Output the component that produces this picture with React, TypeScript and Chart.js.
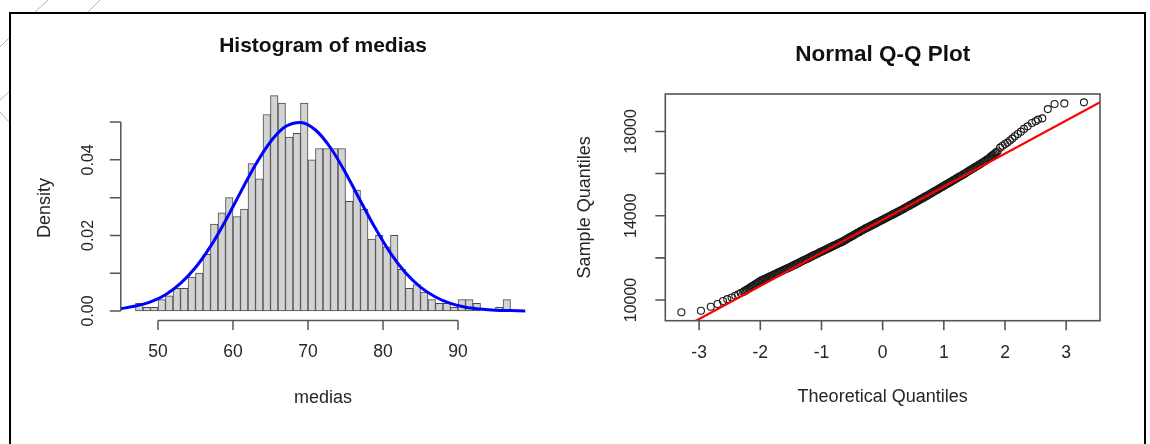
import { useEffect, useRef } from 'react';
import { Chart, registerables } from 'chart.js';

Chart.register(...registerables);

// ---------- Histogram data ----------
const histMids = [
  47.5, 48.5, 49.5, 50.5, 51.5, 52.5, 53.5, 54.5, 55.5, 56.5,
  57.5, 58.5, 59.5, 60.5, 61.5, 62.5, 63.5, 64.5, 65.5, 66.5,
  67.5, 68.5, 69.5, 70.5, 71.5, 72.5, 73.5, 74.5, 75.5, 76.5,
  77.5, 78.5, 79.5, 80.5, 81.5, 82.5, 83.5, 84.5, 85.5, 86.5,
  87.5, 88.5, 89.5, 90.5, 91.5, 92.5, 93.5, 94.5, 95.5, 96.5,
];
const histDensity = [
  0.002, 0.001, 0.001, 0.003, 0.004, 0.006, 0.006, 0.009, 0.010, 0.015,
  0.023, 0.026, 0.030, 0.025, 0.027, 0.039, 0.035, 0.052, 0.057, 0.055,
  0.046, 0.047, 0.055, 0.040, 0.043, 0.043, 0.043, 0.043, 0.029, 0.032,
  0.027, 0.019, 0.020, 0.017, 0.020, 0.011, 0.006, 0.007, 0.005, 0.003,
  0.002, 0.002, 0.001, 0.003, 0.003, 0.002, 0.000, 0.000, 0.001, 0.003,
];
const curveX = [
  45, 47, 49, 51, 53, 55, 57, 59, 61, 63, 65, 67, 69, 71,
  73, 75, 77, 79, 81, 83, 85, 87, 89, 91, 93, 95, 97, 99,
];
const curveY = [
  0.0006, 0.0013, 0.0024, 0.0043, 0.0073, 0.0115, 0.0171, 0.0239, 0.0314, 0.0387, 0.0448, 0.0488, 0.0499, 0.0479,
  0.0432, 0.0366, 0.0291, 0.0218, 0.0153, 0.0101, 0.0063, 0.0037, 0.0020, 0.0010, 0.0005, 0.0002, 0.0001, 0.0000,
];
const histXTicks = [50, 60, 70, 80, 90];
const histXLabels = ['50', '60', '70', '80', '90'];
const histYTicks = [0, 0.01, 0.02, 0.03, 0.04, 0.05];
const histYLabels = ['0.00', '', '0.02', '', '0.04', ''];

// ---------- Q-Q data ----------
const qqTheoretical = [
  -3.29, -2.97, -2.81, -2.70, -2.61, -2.54, -2.47, -2.41, -2.36, -2.32,
  -2.28, -2.26, -2.24, -2.22, -2.20, -2.18, -2.16, -2.14, -2.12, -2.10,
  -2.08, -2.06, -2.04, -2.02, -2.00, -1.98, -1.96, -1.94, -1.92, -1.90,
  -1.88, -1.86, -1.84, -1.82, -1.80, -1.78, -1.76, -1.74, -1.72, -1.70,
  -1.68, -1.66, -1.64, -1.62, -1.60, -1.58, -1.56, -1.54, -1.52, -1.50,
  -1.48, -1.46, -1.44, -1.42, -1.40, -1.38, -1.36, -1.34, -1.32, -1.30,
  -1.28, -1.26, -1.24, -1.22, -1.20, -1.18, -1.16, -1.14, -1.12, -1.10,
  -1.08, -1.06, -1.04, -1.02, -1.00, -0.98, -0.96, -0.94, -0.92, -0.90,
  -0.88, -0.86, -0.84, -0.82, -0.80, -0.78, -0.76, -0.74, -0.72, -0.70,
  -0.68, -0.66, -0.64, -0.62, -0.60, -0.58, -0.56, -0.54, -0.52, -0.50,
  -0.48, -0.46, -0.44, -0.42, -0.40, -0.38, -0.36, -0.34, -0.32, -0.30,
  -0.28, -0.26, -0.24, -0.22, -0.20, -0.18, -0.16, -0.14, -0.12, -0.10,
  -0.08, -0.06, -0.04, -0.02, 0.00, 0.02, 0.04, 0.06, 0.08, 0.10,
  0.12, 0.14, 0.16, 0.18, 0.20, 0.22, 0.24, 0.26, 0.28, 0.30,
  0.32, 0.34, 0.36, 0.38, 0.40, 0.42, 0.44, 0.46, 0.48, 0.50,
  0.52, 0.54, 0.56, 0.58, 0.60, 0.62, 0.64, 0.66, 0.68, 0.70,
  0.72, 0.74, 0.76, 0.78, 0.80, 0.82, 0.84, 0.86, 0.88, 0.90,
  0.92, 0.94, 0.96, 0.98, 1.00, 1.02, 1.04, 1.06, 1.08, 1.10,
  1.12, 1.14, 1.16, 1.18, 1.20, 1.22, 1.24, 1.26, 1.28, 1.30,
  1.32, 1.34, 1.36, 1.38, 1.40, 1.42, 1.44, 1.46, 1.48, 1.50,
  1.52, 1.54, 1.56, 1.58, 1.60, 1.62, 1.64, 1.66, 1.68, 1.70,
  1.72, 1.74, 1.76, 1.78, 1.80, 1.82, 1.84, 1.86, 1.88, 1.92,
  1.96, 2.00, 2.04, 2.08, 2.12, 2.16, 2.21, 2.26, 2.31, 2.37,
  2.44, 2.50, 2.54, 2.61, 2.70, 2.81, 2.97, 3.29,
];
const qqSample = [
  9420, 9490, 9680, 9810, 9950, 10040, 10120, 10200, 10270, 10330,
  10380, 10420, 10450, 10490, 10530, 10560, 10600, 10640, 10670, 10710,
  10750, 10780, 10820, 10860, 10900, 10930, 10950, 10980, 11010, 11030,
  11060, 11090, 11120, 11140, 11170, 11200, 11230, 11250, 11280, 11310,
  11340, 11360, 11390, 11420, 11450, 11470, 11500, 11520, 11550, 11580,
  11610, 11640, 11670, 11690, 11720, 11750, 11780, 11810, 11840, 11870,
  11900, 11920, 11950, 11980, 12010, 12040, 12070, 12100, 12130, 12150,
  12180, 12210, 12240, 12270, 12300, 12320, 12350, 12380, 12410, 12430,
  12460, 12490, 12520, 12550, 12580, 12600, 12630, 12660, 12690, 12710,
  12740, 12770, 12800, 12830, 12870, 12900, 12940, 12970, 13000, 13030,
  13070, 13100, 13140, 13170, 13200, 13230, 13270, 13300, 13330, 13360,
  13400, 13420, 13450, 13480, 13510, 13540, 13570, 13600, 13630, 13660,
  13690, 13720, 13750, 13780, 13810, 13840, 13870, 13900, 13930, 13960,
  13990, 14020, 14050, 14080, 14110, 14140, 14170, 14200, 14230, 14260,
  14290, 14320, 14360, 14390, 14420, 14450, 14490, 14520, 14550, 14580,
  14620, 14650, 14680, 14710, 14750, 14780, 14810, 14840, 14880, 14910,
  14940, 14970, 15010, 15040, 15080, 15110, 15150, 15180, 15210, 15240,
  15280, 15310, 15350, 15380, 15420, 15450, 15490, 15520, 15550, 15580,
  15620, 15650, 15690, 15720, 15760, 15790, 15830, 15860, 15890, 15920,
  15960, 15990, 16030, 16070, 16110, 16140, 16180, 16210, 16250, 16280,
  16320, 16350, 16390, 16420, 16460, 16500, 16540, 16570, 16610, 16650,
  16690, 16730, 16780, 16830, 16880, 16920, 16970, 17010, 17060, 17230,
  17320, 17400, 17470, 17570, 17660, 17770, 17880, 17990, 18120, 18240,
  18400, 18480, 18560, 18620, 19060, 19300, 19330, 19380,
];
const qqLineX = [-3.6, 3.6];
const qqLineY = [8155, 19459];
const qqXTicks = [-3, -2, -1, 0, 1, 2, 3];
const qqXLabels = ['-3', '-2', '-1', '0', '1', '2', '3'];
const qqYTicks = [10000, 12000, 14000, 16000, 18000];
const qqYLabels = ['10000', '', '14000', '', '18000'];

const FONT = '"Liberation Sans", Arial, sans-serif';
const AXIS = '#555555';
const TEXT = '#262626';

function rotText(ctx: CanvasRenderingContext2D, text: string, x: number, y: number) {
  ctx.save();
  ctx.translate(x, y);
  ctx.rotate(-Math.PI / 2);
  ctx.textAlign = 'center';
  ctx.textBaseline = 'middle';
  ctx.fillText(text, 0, 0);
  ctx.restore();
}

const histDecor = {
  id: 'histDecor',
  afterDraw(chart: any) {
    const ctx: CanvasRenderingContext2D = chart.ctx;
    const a = chart.chartArea;
    const xs = chart.scales.x;
    const ys = chart.scales.y;
    ctx.save();
    ctx.strokeStyle = AXIS;
    ctx.lineWidth = 1.5;
    const axY = a.bottom + 1;
    const x0 = xs.getPixelForValue(histXTicks[0]);
    const x1 = xs.getPixelForValue(histXTicks[histXTicks.length - 1]);
    ctx.beginPath();
    ctx.moveTo(x0, axY);
    ctx.lineTo(x1, axY);
    histXTicks.forEach((v) => {
      const px = xs.getPixelForValue(v);
      ctx.moveTo(px, axY);
      ctx.lineTo(px, axY + 9.5);
    });
    const axX = a.left + 0.3;
    const y0 = ys.getPixelForValue(histYTicks[0]);
    const y1 = ys.getPixelForValue(histYTicks[histYTicks.length - 1]);
    ctx.moveTo(axX, y0);
    ctx.lineTo(axX, y1);
    histYTicks.forEach((v) => {
      const py = ys.getPixelForValue(v);
      ctx.moveTo(axX, py);
      ctx.lineTo(axX - 11, py);
    });
    ctx.stroke();

    ctx.fillStyle = TEXT;
    ctx.font = `17.5px ${FONT}`;
    ctx.textAlign = 'center';
    ctx.textBaseline = 'middle';
    histXTicks.forEach((v, i) => {
      ctx.fillText(histXLabels[i], xs.getPixelForValue(v), axY + 32);
    });
    ctx.font = `16px ${FONT}`;
    histYTicks.forEach((v, i) => {
      if (histYLabels[i]) rotText(ctx, histYLabels[i], axX - 32, ys.getPixelForValue(v));
    });

    const cx = (a.left + a.right) / 2;
    ctx.font = `bold 21px ${FONT}`;
    ctx.textBaseline = 'alphabetic';
    ctx.fillStyle = '#111111';
    ctx.fillText('Histogram of medias', cx, 52);
    ctx.fillStyle = TEXT;
    ctx.font = `18px ${FONT}`;
    ctx.fillText('medias', cx, 403);
    rotText(ctx, 'Density', 45, 208);
    ctx.restore();
  },
};

const qqDecor = {
  id: 'qqDecor',
  afterDraw(chart: any) {
    const ctx: CanvasRenderingContext2D = chart.ctx;
    const a = chart.chartArea;
    const xs = chart.scales.x;
    const ys = chart.scales.y;
    ctx.save();
    ctx.strokeStyle = AXIS;
    ctx.lineWidth = 1.6;
    ctx.strokeRect(a.left, a.top, a.right - a.left, a.bottom - a.top);
    ctx.beginPath();
    qqXTicks.forEach((v) => {
      const px = xs.getPixelForValue(v);
      ctx.moveTo(px, a.bottom);
      ctx.lineTo(px, a.bottom + 9.5);
    });
    qqYTicks.forEach((v) => {
      const py = ys.getPixelForValue(v);
      ctx.moveTo(a.left, py);
      ctx.lineTo(a.left - 10, py);
    });
    ctx.stroke();

    ctx.fillStyle = TEXT;
    ctx.font = `17.5px ${FONT}`;
    ctx.textAlign = 'center';
    ctx.textBaseline = 'middle';
    qqXTicks.forEach((v, i) => {
      ctx.fillText(qqXLabels[i], xs.getPixelForValue(v), a.bottom + 32.5);
    });
    ctx.font = `16px ${FONT}`;
    qqYTicks.forEach((v, i) => {
      if (qqYLabels[i]) rotText(ctx, qqYLabels[i], a.left - 33.5, ys.getPixelForValue(v));
    });

    const cx = (a.left + a.right) / 2;
    ctx.font = `bold 22.5px ${FONT}`;
    ctx.textBaseline = 'alphabetic';
    ctx.fillStyle = '#111111';
    ctx.fillText('Normal Q-Q Plot', cx, 61);
    ctx.fillStyle = TEXT;
    ctx.font = `18px ${FONT}`;
    ctx.fillText('Theoretical Quantiles', cx, 402);
    rotText(ctx, 'Sample Quantiles', 25.5, (a.top + a.bottom) / 2);
    ctx.restore();
  },
};

export default function App() {
  const histRef = useRef<HTMLCanvasElement>(null);
  const qqRef = useRef<HTMLCanvasElement>(null);

  useEffect(() => {
    const histChart = new Chart(histRef.current as HTMLCanvasElement, {
      type: 'bar',
      data: {
        datasets: [
          {
            type: 'line',
            data: curveX.map((x, i) => ({ x, y: curveY[i] })),
            borderColor: '#0000ff',
            borderWidth: 3,
            pointRadius: 0,
            fill: false,
            cubicInterpolationMode: 'monotone',
            order: 0,
          } as any,
          {
            type: 'bar',
            data: histMids.map((x, i) => ({ x, y: histDensity[i] })),
            backgroundColor: '#d3d3d3',
            borderColor: '#4a4a4a',
            borderWidth: 1,
            borderSkipped: false,
            barPercentage: 1,
            categoryPercentage: 1,
            order: 1,
          } as any,
        ],
      },
      options: {
        animation: false,
        responsive: false,
        devicePixelRatio: 1,
        events: [],
        layout: { padding: { left: 120.5, top: 87, right: 34.5, bottom: 124.4 } },
        plugins: { legend: { display: false }, tooltip: { enabled: false }, title: { display: false } },
        scales: {
          x: { type: 'linear', min: 45, max: 99, offset: false, display: false },
          y: { type: 'linear', min: -0.00228, max: 0.05928, display: false },
        },
      },
      plugins: [histDecor],
    });

    const qqChart = new Chart(qqRef.current as HTMLCanvasElement, {
      type: 'scatter',
      data: {
        datasets: [
          {
            type: 'line',
            data: qqLineX.map((x, i) => ({ x, y: qqLineY[i] })),
            borderColor: '#ff0000',
            borderWidth: 2.2,
            pointRadius: 0,
            fill: false,
            clip: 0,
            order: 0,
          } as any,
          {
            type: 'scatter',
            data: qqTheoretical.map((x, i) => ({ x, y: qqSample[i] })),
            pointStyle: 'circle',
            pointRadius: 3.5,
            borderColor: '#1a1a1a',
            borderWidth: 1.1,
            backgroundColor: 'rgba(0,0,0,0)',
            order: 1,
          } as any,
        ],
      },
      options: {
        animation: false,
        responsive: false,
        devicePixelRatio: 1,
        events: [],
        layout: { padding: { left: 105.3, top: 94, right: 50, bottom: 123.3 } },
        plugins: { legend: { display: false }, tooltip: { enabled: false }, title: { display: false } },
        scales: {
          x: { type: 'linear', min: -3.553, max: 3.553, offset: false, display: false },
          y: { type: 'linear', min: 9018, max: 19776, display: false },
        },
      },
      plugins: [qqDecor],
    });

    return () => {
      histChart.destroy();
      qqChart.destroy();
    };
  }, []);

  return (
    <div style={{ position: 'absolute', left: 0, top: 0, width: 1150, height: 444, overflow: 'hidden', background: '#ffffff' }}>
      <svg width={1150} height={444} style={{ position: 'absolute', left: 0, top: 0 }}>
        <line x1={48} y1={0} x2={35} y2={12} stroke="#b5b5b5" strokeWidth={1} />
        <line x1={100} y1={0} x2={88} y2={12} stroke="#b5b5b5" strokeWidth={1} />
        <line x1={9} y1={38} x2={0} y2={47} stroke="#b5b5b5" strokeWidth={1} />
        <line x1={9} y1={92} x2={0} y2={100} stroke="#b5b5b5" strokeWidth={1} />
        <line x1={0} y1={112} x2={9} y2={122} stroke="#b5b5b5" strokeWidth={1} />
      </svg>
      <div
        style={{
          position: 'absolute',
          left: 9,
          top: 12,
          width: 1137,
          height: 440,
          borderLeft: '2px solid #000',
          borderTop: '2px solid #000',
          borderRight: '2px solid #000',
          boxSizing: 'border-box',
        }}
      />
      <canvas
        ref={histRef}
        width={560}
        height={444}
        style={{ position: 'absolute', left: 0, top: 0, width: 560, height: 444 }}
      />
      <canvas
        ref={qqRef}
        width={590}
        height={444}
        style={{ position: 'absolute', left: 560, top: 0, width: 590, height: 444 }}
      />
    </div>
  );
}
